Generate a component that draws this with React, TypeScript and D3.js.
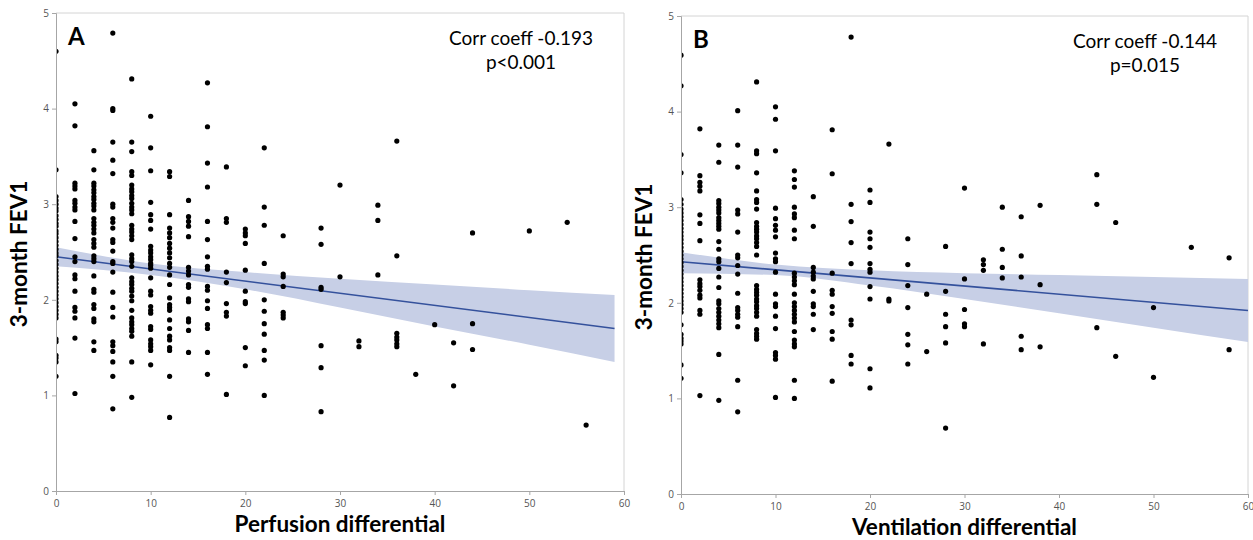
import React, { useEffect, useRef } from 'react';
import * as d3 from 'd3';

// x columns (differential, %) and the FEV1 values stacked in each column
const perfusionCols = [0, 2, 4, 6, 8, 10, 12, 14, 16, 18, 20, 22, 24, 28, 30, 32, 34, 36, 38, 40, 42, 44, 50, 54, 56];
const perfusionFev1 = [
    [4.60, 3.36, 3.08, 3.04, 3.00, 2.96, 2.93, 2.88, 2.84, 2.80, 2.77, 2.72, 2.69, 2.65, 2.61, 2.57, 2.53, 2.49, 2.46, 2.41, 2.37, 2.33, 2.29, 2.25, 2.21, 2.17, 2.13, 2.09, 2.05, 2.01, 1.97, 1.93, 1.89, 1.85, 1.81, 1.59, 1.56, 1.42, 1.39, 1.35, 1.20],
    [4.05, 3.82, 3.22, 3.19, 3.16, 3.04, 3.01, 2.97, 2.94, 2.82, 2.64, 2.45, 2.40, 2.26, 2.22, 2.09, 1.92, 1.88, 1.81, 1.60, 1.02],
    [3.56, 3.36, 3.22, 3.19, 3.15, 3.12, 3.08, 3.05, 3.01, 2.98, 2.94, 2.85, 2.81, 2.78, 2.74, 2.70, 2.63, 2.59, 2.55, 2.46, 2.43, 2.40, 2.25, 2.11, 2.08, 1.95, 1.91, 1.80, 1.77, 1.56, 1.47],
    [4.79, 4.00, 3.98, 3.65, 3.46, 3.32, 3.00, 2.97, 2.85, 2.81, 2.75, 2.63, 2.60, 2.51, 2.40, 2.38, 2.29, 2.08, 1.92, 1.82, 1.56, 1.52, 1.46, 1.35, 1.20, 0.86],
    [4.31, 3.65, 3.55, 3.34, 3.30, 3.20, 3.16, 3.13, 3.09, 3.06, 3.01, 2.97, 2.94, 2.90, 2.78, 2.74, 2.71, 2.67, 2.63, 2.47, 2.43, 2.40, 2.35, 2.23, 2.19, 2.16, 2.12, 2.09, 2.04, 1.99, 1.89, 1.81, 1.77, 1.74, 1.70, 1.67, 1.62, 1.35, 0.98],
    [3.92, 3.59, 3.35, 3.02, 2.89, 2.83, 2.74, 2.56, 2.52, 2.49, 2.45, 2.42, 2.38, 2.36, 2.33, 2.23, 2.09, 2.05, 1.93, 1.89, 1.86, 1.72, 1.69, 1.58, 1.54, 1.51, 1.47, 1.32],
    [3.34, 3.29, 2.89, 2.75, 2.70, 2.65, 2.59, 2.54, 2.49, 2.44, 2.38, 2.34, 2.26, 2.16, 2.02, 1.95, 1.92, 1.89, 1.79, 1.70, 1.62, 1.58, 1.50, 1.47, 1.20, 0.77],
    [3.04, 2.87, 2.82, 2.77, 2.66, 2.34, 2.30, 2.26, 2.16, 2.13, 2.01, 1.98, 1.80, 1.77, 1.68, 1.45],
    [4.27, 3.81, 3.43, 3.18, 2.82, 2.63, 2.45, 2.35, 2.32, 2.14, 2.10, 1.99, 1.91, 1.74, 1.70, 1.45, 1.22],
    [3.39, 2.85, 2.81, 2.29, 2.18, 1.96, 1.87, 1.83, 1.01],
    [2.74, 2.70, 2.67, 2.59, 2.31, 2.09, 1.98, 1.96, 1.50, 1.31],
    [3.59, 2.97, 2.78, 2.38, 2.00, 1.88, 1.75, 1.64, 1.47, 1.37, 1.00],
    [2.67, 2.27, 2.24, 2.14, 1.87, 1.84, 1.81],
    [2.75, 2.58, 2.13, 2.11, 1.52, 1.29, 0.83],
    [3.20, 2.24],
    [1.57, 1.51],
    [2.99, 2.83, 2.26],
    [3.66, 2.46, 1.65, 1.61, 1.58, 1.54, 1.51],
    [1.22],
    [1.74],
    [1.55, 1.10],
    [2.70, 1.75, 1.48],
    [2.72],
    [2.81],
    [0.69],
];

const ventilationCols = [0, 2, 4, 6, 8, 10, 12, 14, 16, 18, 20, 22, 24, 26, 28, 30, 32, 34, 36, 38, 44, 46, 50, 54, 58];
const ventilationFev1 = [
    [4.59, 4.27, 3.55, 3.36, 3.08, 3.03, 2.98, 2.94, 2.90, 2.86, 2.82, 2.78, 2.74, 2.70, 2.66, 2.62, 2.58, 2.54, 2.50, 2.46, 2.42, 2.38, 2.34, 2.30, 2.26, 2.22, 2.18, 2.14, 2.10, 2.06, 2.02, 1.98, 1.94, 1.90, 1.77, 1.67, 1.63, 1.60, 1.57, 1.35, 1.21],
    [3.82, 3.33, 3.26, 3.22, 3.17, 2.92, 2.83, 2.65, 2.24, 2.20, 2.17, 2.13, 2.08, 2.05, 1.92, 1.88, 1.03],
    [3.65, 3.47, 3.07, 3.04, 3.00, 2.97, 2.94, 2.89, 2.86, 2.83, 2.80, 2.77, 2.64, 2.56, 2.46, 2.43, 2.36, 2.27, 2.16, 2.02, 1.99, 1.94, 1.90, 1.86, 1.82, 1.78, 1.74, 1.46, 0.98],
    [4.01, 3.65, 3.42, 2.97, 2.93, 2.74, 2.50, 2.47, 2.39, 2.30, 2.10, 1.95, 1.92, 1.88, 1.85, 1.75, 1.19, 0.86],
    [4.31, 3.59, 3.56, 3.36, 3.17, 3.08, 3.05, 2.98, 2.84, 2.80, 2.77, 2.74, 2.70, 2.67, 2.63, 2.59, 2.50, 2.18, 2.14, 2.11, 2.08, 2.04, 2.01, 1.97, 1.94, 1.90, 1.86, 1.72, 1.68, 1.65, 1.62],
    [4.05, 3.92, 3.59, 2.99, 2.88, 2.81, 2.76, 2.69, 2.52, 2.46, 2.43, 2.32, 2.09, 1.99, 1.96, 1.86, 1.73, 1.48, 1.45, 1.41, 1.01],
    [3.38, 3.29, 3.21, 3.00, 2.93, 2.89, 2.76, 2.67, 2.31, 2.27, 2.23, 2.19, 2.09, 2.00, 1.96, 1.92, 1.88, 1.84, 1.80, 1.70, 1.61, 1.57, 1.54, 1.19, 1.00],
    [3.11, 2.80, 2.37, 2.32, 2.28, 2.25, 2.12, 1.99, 1.96, 1.88, 1.72],
    [3.81, 3.35, 2.31, 2.13, 2.09, 1.96, 1.89, 1.70, 1.62, 1.18],
    [4.78, 3.03, 2.85, 2.63, 2.41, 1.82, 1.77, 1.45, 1.36],
    [3.18, 3.05, 2.74, 2.67, 2.58, 2.41, 2.35, 2.32, 2.17, 2.04, 1.31, 1.11],
    [3.66, 2.04, 2.02],
    [2.67, 2.40, 2.18, 1.95, 1.67, 1.56, 1.36],
    [2.09, 1.49],
    [2.59, 2.12, 1.88, 1.75, 1.58, 0.69],
    [3.20, 2.25, 1.93, 1.78, 1.75],
    [2.45, 2.40, 2.34, 1.57],
    [3.00, 2.56, 2.37, 2.26],
    [2.90, 2.49, 2.27, 1.65, 1.51],
    [3.02, 2.19, 1.54],
    [3.34, 3.03, 1.74],
    [2.84, 1.44],
    [1.95, 1.22],
    [2.58],
    [2.47, 1.51],
];

// fitted line and 95% confidence band
const perfusionFitX = [0, 59];
const perfusionFitY = [2.45, 1.70];
const perfusionBandX = [0, 10, 20, 30, 40, 50, 59];
const perfusionBandLo = [2.35, 2.26, 2.11, 1.92, 1.72, 1.53, 1.35];
const perfusionBandHi = [2.55, 2.38, 2.29, 2.22, 2.16, 2.10, 2.05];

const ventilationFitX = [0, 60];
const ventilationFitY = [2.43, 1.92];
const ventilationBandX = [0, 10, 20, 30, 40, 50, 60];
const ventilationBandLo = [2.31, 2.29, 2.18, 2.04, 1.89, 1.74, 1.59];
const ventilationBandHi = [2.53, 2.40, 2.34, 2.31, 2.29, 2.27, 2.25];

const xTicks = [0, 10, 20, 30, 40, 50, 60];
const yTicks = [0, 1, 2, 3, 4, 5];

const panels = [
    {
        id: 'A', letter: 'A', xTitle: 'Perfusion differential',
        stat1: 'Corr coeff -0.193', stat2: 'p<0.001',
        cols: perfusionCols, vals: perfusionFev1,
        fitX: perfusionFitX, fitY: perfusionFitY,
        bandX: perfusionBandX, bandLo: perfusionBandLo, bandHi: perfusionBandHi,
        box: { left: 56, right: 624, top: 13, bottom: 491 }, yTitleX: 27,
    },
    {
        id: 'B', letter: 'B', xTitle: 'Ventilation differential',
        stat1: 'Corr coeff -0.144', stat2: 'p=0.015',
        cols: ventilationCols, vals: ventilationFev1,
        fitX: ventilationFitX, fitY: ventilationFitY,
        bandX: ventilationBandX, bandLo: ventilationBandLo, bandHi: ventilationBandHi,
        box: { left: 681, right: 1248, top: 16, bottom: 494 }, yTitleX: 652,
    },
];

const App = () => {
    const ref = useRef<SVGSVGElement>(null);

    useEffect(() => {
        const svg = d3.select(ref.current);
        svg.selectAll('*').remove();

        panels.forEach((p) => {
            const { left, right, top, bottom } = p.box;
            const x = d3.scaleLinear().domain([0, 60]).range([left, right]);
            const y = d3.scaleLinear().domain([0, 5]).range([bottom, top]);
            const g = svg.append('g');

            // clip so the dots on x=0 are cut by the axis
            g.append('clipPath').attr('id', `clip-${p.id}`)
                .append('rect')
                .attr('x', left).attr('y', top)
                .attr('width', right - left).attr('height', bottom - top);

            // frame
            g.append('line').attr('x1', left).attr('x2', right).attr('y1', top).attr('y2', top)
                .attr('stroke', '#d4d4d4').attr('stroke-width', 1);
            g.append('line').attr('x1', right).attr('x2', right).attr('y1', top).attr('y2', bottom)
                .attr('stroke', '#d4d4d4').attr('stroke-width', 1);

            // confidence band + fit line
            const band = p.bandX.map((v, i) => ({ x: v, lo: p.bandLo[i], hi: p.bandHi[i] }));
            g.append('path')
                .datum(band)
                .attr('d', d3.area<any>()
                    .x(d => x(d.x)).y0(d => y(d.lo)).y1(d => y(d.hi))
                    .curve(d3.curveMonotoneX))
                .attr('fill', '#c7cfe6');

            g.append('path')
                .datum(p.fitX.map((v, i) => [v, p.fitY[i]]))
                .attr('d', d3.line<any>().x(d => x(d[0])).y(d => y(d[1])))
                .attr('fill', 'none')
                .attr('stroke', '#34519c')
                .attr('stroke-width', 1.6);

            // points
            const pts = p.cols.flatMap((c, i) => p.vals[i].map(v => ({ x: c, y: v })));
            g.append('g').attr('clip-path', `url(#clip-${p.id})`)
                .selectAll('circle')
                .data(pts)
                .enter()
                .append('circle')
                .attr('cx', d => x(d.x))
                .attr('cy', d => y(d.y))
                .attr('r', 2.6)
                .attr('fill', '#000');

            // axes
            const xAxis = d3.axisBottom(x).tickValues(xTicks).tickSize(4).tickFormat(d3.format('d'));
            const yAxis = d3.axisLeft(y).tickValues(yTicks).tickSize(4).tickFormat(d3.format('d'));

            const ax = g.append('g').attr('transform', `translate(0, ${bottom})`).call(xAxis);
            const ay = g.append('g').attr('transform', `translate(${left}, 0)`).call(yAxis);
            [ax, ay].forEach(a => {
                a.select('.domain').attr('stroke', '#a6a6a6');
                a.selectAll('.tick line').attr('stroke', '#a6a6a6');
                a.selectAll('.tick text')
                    .attr('fill', '#555')
                    .style('font-family', '"Open Sans", sans-serif')
                    .style('font-size', '10px');
            });
            ax.selectAll('.tick text').attr('dy', '0.85em');

            // titles
            g.append('text')
                .attr('x', (left + right) / 2)
                .attr('y', bottom + 41)
                .attr('text-anchor', 'middle')
                .style('font-family', 'Lato, sans-serif')
                .style('font-weight', 'bold')
                .style('font-size', '22.5px')
                .text(p.xTitle);

            g.append('text')
                .attr('transform', `translate(${p.yTitleX}, ${(top + bottom) / 2 + 2}) rotate(-90)`)
                .attr('text-anchor', 'middle')
                .style('font-family', 'Lato, sans-serif')
                .style('font-weight', 'bold')
                .style('font-size', '22.5px')
                .text('3-month FEV1');

            g.append('text')
                .attr('x', left + 12)
                .attr('y', top + 32)
                .style('font-family', 'Lato, sans-serif')
                .style('font-weight', 'bold')
                .style('font-size', '24px')
                .text(p.letter);

            const sx = right - 103;
            g.append('text')
                .attr('x', sx).attr('y', top + 32)
                .attr('text-anchor', 'middle')
                .style('font-family', 'Lato, sans-serif')
                .style('font-size', '19px')
                .text(p.stat1);
            g.append('text')
                .attr('x', sx).attr('y', top + 56)
                .attr('text-anchor', 'middle')
                .style('font-family', 'Lato, sans-serif')
                .style('font-size', '19px')
                .text(p.stat2);
        });
    }, []);

    return (
        <svg ref={ref} width={1253} height={540}
            style={{ position: 'absolute', left: 0, top: 0, background: '#fff' }} />
    );
};

export default App;
